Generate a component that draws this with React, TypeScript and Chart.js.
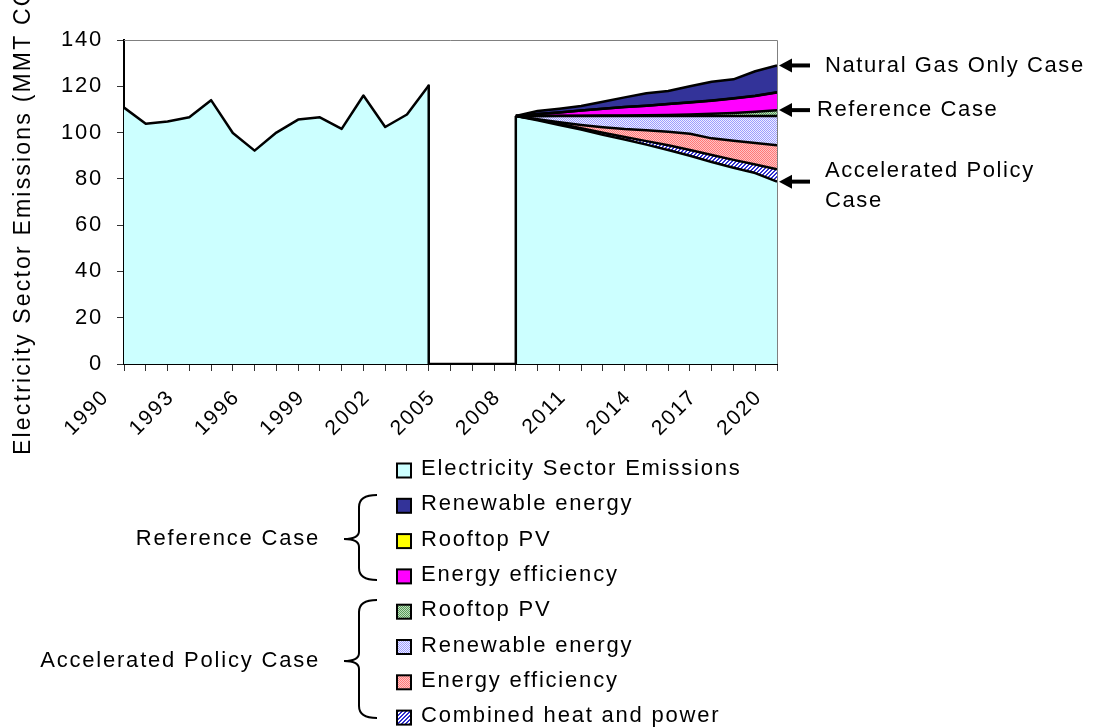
import React, { useEffect, useRef } from 'react';
import { Chart, registerables } from 'chart.js';

Chart.register(...registerables);

const FONT_FAMILY = '"Liberation Sans", Arial, Helvetica, sans-serif';
const LETTER_SPACING = '1.8px';

// ---- historical emissions (MMT CO2e) ----
const histYears = [1990, 1991, 1992, 1993, 1994, 1995, 1996, 1997, 1998, 1999, 2000, 2001, 2002, 2003, 2004];
const histEmissions = [110.8, 103.8, 104.8, 106.6, 114.0, 99.8, 92.2, 100.0, 105.6, 106.6, 101.6, 116.0, 102.4, 107.8, 120.3];

// ---- projections (stack layers, bottom to top) ----
const projYears = [2008, 2009, 2010, 2011, 2012, 2013, 2014, 2015, 2016, 2017, 2018, 2019, 2020];
const accEmissions = [107.2, 105.3, 103.3, 101.3, 99.0, 97.0, 94.8, 92.5, 90.0, 87.3, 84.8, 82.5, 78.8];
const accCHP = [0, 0.3, 0.5, 0.6, 0.9, 1.1, 1.5, 2.0, 2.5, 3.0, 3.4, 3.7, 5.3];
const accEfficiency = [0, 0.2, 0.7, 1.4, 2.4, 3.4, 4.7, 5.9, 7.0, 7.2, 8.3, 9.3, 10.4];
const accRenewable = [0, 1.4, 2.7, 3.9, 4.9, 5.7, 6.2, 6.8, 7.7, 9.7, 10.7, 11.7, 12.7];
const accRooftopPV = [0, 0, 0.05, 0.1, 0.15, 0.2, 0.3, 0.4, 0.6, 0.9, 1.3, 1.8, 2.5];
const refEfficiency = [0, 0.8, 1.45, 2.2, 2.95, 3.6, 4.1, 4.7, 5.2, 5.7, 6.2, 6.8, 7.6];
const refRooftopPV = [0, 0, 0, 0, 0, 0, 0, 0, 0.05, 0.05, 0.1, 0.1, 0.1];
const refRenewable = [0, 1.3, 1.6, 2.0, 3.0, 4.2, 5.4, 5.7, 6.95, 8.15, 8.2, 10.6, 11.6];

// ---- axes ----
const xTickLabels = ['1990', '1993', '1996', '1999', '2002', '2005', '2008', '2011', '2014', '2017', '2020'];
const yTickValues = [0, 20, 40, 60, 80, 100, 120, 140];
const yAxisTitle = 'Electricity Sector Emissions (MMT CO2e)';

// ---- legend & annotations ----
const legendLabels = [
  'Electricity Sector Emissions',
  'Renewable energy',
  'Rooftop PV',
  'Energy efficiency',
  'Rooftop PV',
  'Renewable energy',
  'Energy efficiency',
  'Combined heat and power',
];
const groupLabels = ['Reference Case', 'Accelerated Policy Case'];
const caseLabels = ['Natural Gas Only Case', 'Reference Case', 'Accelerated Policy', 'Case'];

function makePattern(kind: string): CanvasPattern | string {
  const c = document.createElement('canvas');
  c.width = 4;
  c.height = 4;
  const g = c.getContext('2d');
  if (!g) return '#cccccc';
  const put = (a: string, b: string, test: (x: number, y: number) => boolean) => {
    for (let y = 0; y < 4; y++) {
      for (let x = 0; x < 4; x++) {
        g.fillStyle = test(x, y) ? a : b;
        g.fillRect(x, y, 1, 1);
      }
    }
  };
  if (kind === 'lavender') put('#9C9CFF', '#EEEEFF', (x, y) => (x + y) % 2 === 0);
  else if (kind === 'salmon') put('#FF7878', '#FFC4C4', (x, y) => (x + y) % 2 === 0);
  else if (kind === 'green') put('#5A9A5A', '#BFE0BF', (x, y) => (x + y) % 2 === 0);
  else if (kind === 'hatch') put('#3030D0', '#FFFFFF', (x, y) => (x + y) % 4 < 2);
  const p = g.createPattern(c, 'repeat');
  return p || '#cccccc';
}

function drawBrace(ctx: CanvasRenderingContext2D, x: number, top: number, bot: number, mid: number) {
  ctx.beginPath();
  ctx.moveTo(x + 18, top);
  ctx.quadraticCurveTo(x, top, x, top + 12);
  ctx.lineTo(x, mid - 8);
  ctx.quadraticCurveTo(x, mid, x - 15, mid);
  ctx.quadraticCurveTo(x, mid, x, mid + 8);
  ctx.lineTo(x, bot - 12);
  ctx.quadraticCurveTo(x, bot, x + 18, bot);
  ctx.stroke();
}

function drawArrow(ctx: CanvasRenderingContext2D, tipX: number, y: number, tailX: number) {
  ctx.beginPath();
  ctx.lineWidth = 4;
  ctx.moveTo(tailX, y);
  ctx.lineTo(tipX + 10, y);
  ctx.stroke();
  ctx.beginPath();
  ctx.moveTo(tipX, y);
  ctx.lineTo(tipX + 13, y - 7);
  ctx.lineTo(tipX + 13, y + 7);
  ctx.closePath();
  ctx.fill();
}

export default function App() {
  const canvasRef = useRef<HTMLCanvasElement>(null);

  useEffect(() => {
    const canvas = canvasRef.current;
    if (!canvas) return;

    const cyan = '#CCFFFF';
    const fills = {
      chp: makePattern('hatch'),
      accEE: makePattern('salmon'),
      accRE: makePattern('lavender'),
      accPV: makePattern('green'),
      refEE: '#FF00FF',
      refPV: '#FFFF00',
      refRE: '#333399',
    };

    const layers = [accCHP, accEfficiency, accRenewable, accRooftopPV, refEfficiency, refRooftopPV, refRenewable];
    const layerFills = [fills.chp, fills.accEE, fills.accRE, fills.accPV, fills.refEE, fills.refPV, fills.refRE];
    let running = accEmissions.slice();
    const cumulative = layers.map((layer) => {
      running = running.map((v, i) => v + layer[i]);
      return running;
    });

    const line = { borderColor: '#000000', borderWidth: 2.5, pointRadius: 0, tension: 0 };
    const toXY = (years: number[], vals: number[]) => years.map((x, i) => ({ x, y: vals[i] }));

    const datasets: any[] = [
      { label: 'hist', data: toXY(histYears, histEmissions), fill: 'origin', backgroundColor: cyan, ...line },
      { label: 'acc', data: toXY(projYears, accEmissions), fill: 'origin', backgroundColor: cyan, ...line },
      ...cumulative.map((vals, k) => ({
        label: 'layer' + k,
        data: toXY(projYears, vals),
        fill: '-1',
        backgroundColor: layerFills[k],
        ...line,
      })),
      {
        label: 'edges',
        data: [
          { x: histYears[histYears.length - 1], y: histEmissions[histEmissions.length - 1] },
          { x: histYears[histYears.length - 1], y: 0 },
          { x: projYears[0], y: 0 },
          { x: projYears[0], y: accEmissions[0] },
        ],
        fill: false,
        ...line,
      },
    ];

    const legendFills = [cyan, fills.refRE, fills.refPV, fills.refEE, fills.accPV, fills.accRE, fills.accEE, fills.chp];

    const decor = {
      id: 'decor',
      beforeDraw(chart: any) {
        chart.ctx.letterSpacing = LETTER_SPACING;
      },
      afterDatasetsDraw(chart: any) {
        const { ctx, chartArea } = chart;
        ctx.save();
        ctx.strokeStyle = '#808080';
        ctx.lineWidth = 1;
        ctx.beginPath();
        ctx.moveTo(chartArea.left, chartArea.top + 0.5);
        ctx.lineTo(chartArea.right + 0.5, chartArea.top + 0.5);
        ctx.lineTo(chartArea.right + 0.5, chartArea.bottom);
        ctx.stroke();
        ctx.restore();
      },
      afterDraw(chart: any) {
        const { ctx, chartArea } = chart;
        const yScale = chart.scales.y;
        ctx.save();
        ctx.letterSpacing = LETTER_SPACING;
        ctx.fillStyle = '#000';
        ctx.strokeStyle = '#000';
        ctx.font = `22px ${FONT_FAMILY}`;
        ctx.textBaseline = 'alphabetic';

        // y-axis title
        ctx.save();
        ctx.letterSpacing = '2.2px';
        ctx.font = `23px ${FONT_FAMILY}`;
        ctx.translate(24, 455);
        ctx.rotate(-Math.PI / 2);
        ctx.textAlign = 'left';
        ctx.textBaseline = 'middle';
        ctx.fillText(yAxisTitle, 0, 0);
        ctx.restore();

        // legend
        const rowStep = 35.3;
        const base0 = 475;
        legendLabels.forEach((label, i) => {
          const b = base0 + i * rowStep;
          ctx.fillStyle = legendFills[i];
          ctx.fillRect(397, b - 11.5, 14, 14);
          ctx.lineWidth = 2;
          ctx.strokeStyle = '#000';
          ctx.strokeRect(397, b - 11.5, 14, 14);
          ctx.fillStyle = '#000';
          ctx.textAlign = 'left';
          ctx.fillText(label, 421, b);
        });

        // group braces and labels
        ctx.lineWidth = 2;
        drawBrace(ctx, 359, 495, 580, 539);
        drawBrace(ctx, 359, 600, 718, 661);
        ctx.textAlign = 'right';
        ctx.textBaseline = 'middle';
        ctx.fillText(groupLabels[0], 320, 539);
        ctx.fillText(groupLabels[1], 320, 661);

        // case arrows at 2020 values
        const last = projYears.length - 1;
        const ngTop = cumulative[cumulative.length - 1][last];
        const refLine = cumulative[3][last];
        const accLine = accEmissions[last];
        const tipX = chartArea.right + 2;
        const yNG = yScale.getPixelForValue(ngTop);
        const yRef = yScale.getPixelForValue(refLine);
        const yAcc = yScale.getPixelForValue(accLine);
        drawArrow(ctx, tipX, yNG, 810);
        drawArrow(ctx, tipX, yRef, 810);
        drawArrow(ctx, tipX, yAcc, 810);
        ctx.textAlign = 'left';
        ctx.letterSpacing = '1.6px';
        ctx.fillText(caseLabels[0], 825, yNG);
        ctx.fillText(caseLabels[1], 817, yRef);
        ctx.fillText(caseLabels[2], 825, yAcc - 11);
        ctx.fillText(caseLabels[3], 825, yAcc + 19);
        ctx.restore();
      },
    };

    const chart = new Chart(canvas, {
      type: 'line',
      data: { datasets },
      options: {
        responsive: false,
        animation: false,
        devicePixelRatio: 1,
        events: [],
        layout: { padding: { top: 40, right: 318, left: 0, bottom: 0 } },
        elements: { point: { radius: 0, hoverRadius: 0 }, line: { tension: 0, borderJoinStyle: 'round' } },
        plugins: {
          legend: { display: false },
          tooltip: { enabled: false },
          filler: { propagate: false, drawTime: 'beforeDatasetsDraw' },
        },
        scales: {
          x: {
            type: 'linear',
            min: 1990,
            max: 2020,
            offset: false,
            grid: { drawOnChartArea: false, drawTicks: true, tickLength: 7, color: '#333', lineWidth: 1 },
            border: { display: true, color: '#000', width: 2 },
            ticks: {
              stepSize: 1,
              autoSkip: false,
              maxRotation: 45,
              minRotation: 45,
              labelOffset: -18,
              padding: 14,
              color: '#000',
              font: { family: FONT_FAMILY, size: 21 },
              callback: (v: any) => (xTickLabels.includes(String(v)) ? String(v) : ''),
            },
            afterFit: (s: any) => {
              s.height = 364;
            },
          },
          y: {
            type: 'linear',
            min: 0,
            max: 140,
            grid: { drawOnChartArea: false, drawTicks: true, tickLength: 7, color: '#333', lineWidth: 1 },
            border: { display: true, color: '#000', width: 2 },
            ticks: {
              stepSize: 20,
              padding: 14,
              color: '#000',
              font: { family: FONT_FAMILY, size: 22 },
              callback: (v: any) => (yTickValues.includes(Number(v)) ? String(v) : ''),
            },
            afterFit: (s: any) => {
              s.width = 124;
            },
          },
        },
      } as any,
      plugins: [decor],
    });

    return () => chart.destroy();
  }, []);

  return (
    <div style={{ position: 'fixed', left: 0, top: 0, width: 1095, height: 728, background: '#fff' }}>
      <canvas ref={canvasRef} width={1095} height={728} style={{ display: 'block', width: 1095, height: 728 }} />
    </div>
  );
}
